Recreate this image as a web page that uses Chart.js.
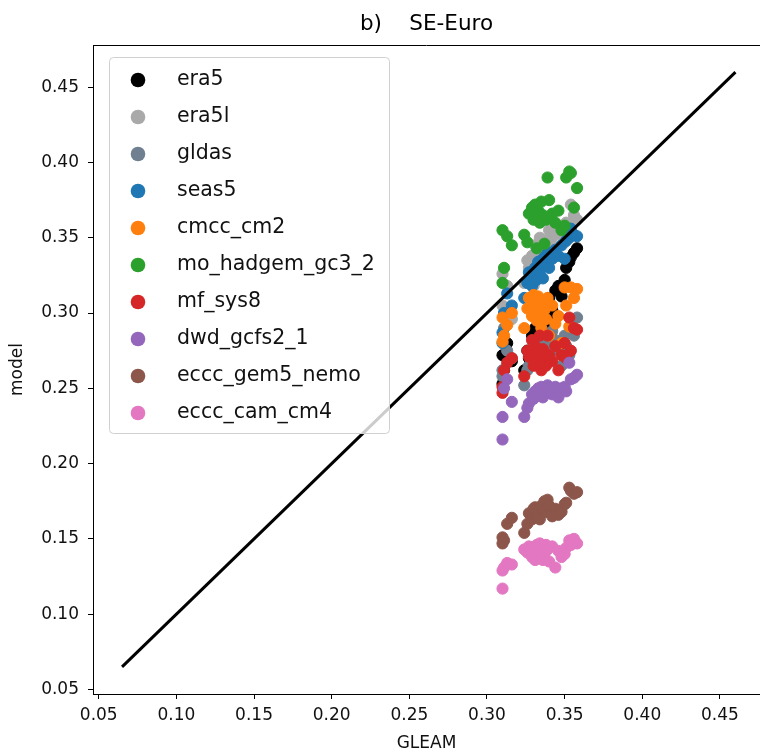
<!DOCTYPE html>
<html>
<head>
<meta charset="utf-8">
<script src="https://cdn.jsdelivr.net/npm/chart.js@4.4.1/dist/chart.umd.min.js"></script>
<style>
    html, body { margin: 0; padding: 0; background: #fff; overflow: hidden; }
    #ChartSEEuro { display: block; }
</style>
</head>
<body>
<canvas id="ChartSEEuro" width="760" height="748"></canvas>
<script>

// GLEAM value per year (shared x for every model)
const Gleam = [0.310, 0.310, 0.311, 0.313, 0.316, 0.324, 0.326, 0.327, 0.329, 0.330,
               0.331, 0.332, 0.333, 0.334, 0.335, 0.336, 0.337, 0.338, 0.339, 0.340,
               0.342, 0.344, 0.346, 0.348, 0.350, 0.351, 0.353, 0.354, 0.356, 0.358];

const Era5 = [0.272, 0.253, 0.262, 0.280, 0.268, 0.262, 0.275, 0.270, 0.285, 0.272,
              0.290, 0.280, 0.295, 0.285, 0.292, 0.300, 0.291, 0.305, 0.298, 0.310,
              0.302, 0.315, 0.318, 0.311, 0.322, 0.330, 0.334, 0.337, 0.340, 0.343];
const Era5l = [0.326, 0.305, 0.300, 0.318, 0.296, 0.320, 0.335, 0.330, 0.338, 0.318,
               0.345, 0.335, 0.342, 0.350, 0.340, 0.332, 0.348, 0.345, 0.338, 0.355,
               0.350, 0.343, 0.355, 0.352, 0.347, 0.360, 0.356, 0.372, 0.365, 0.362];
const Gldas = [0.262, 0.258, 0.290, 0.275, 0.270, 0.252, 0.262, 0.265, 0.272, 0.268,
               0.278, 0.270, 0.282, 0.275, 0.268, 0.280, 0.272, 0.285, 0.278, 0.270,
               0.288, 0.282, 0.275, 0.265, 0.285, 0.278, 0.272, 0.290, 0.285, 0.297];
const Seas5 = [0.287, 0.280, 0.300, 0.313, 0.305, 0.310, 0.320, 0.327, 0.318, 0.325,
               0.330, 0.322, 0.334, 0.328, 0.335, 0.323, 0.337, 0.332, 0.340, 0.330,
               0.336, 0.342, 0.338, 0.345, 0.336, 0.348, 0.350, 0.356, 0.352, 0.351];
const CmccCm2 = [0.281, 0.297, 0.285, 0.292, 0.300, 0.290, 0.303, 0.310, 0.298, 0.312,
                 0.305, 0.295, 0.311, 0.300, 0.290, 0.308, 0.302, 0.296, 0.310, 0.285,
                 0.305, 0.293, 0.298, 0.280, 0.317, 0.305, 0.291, 0.317, 0.310, 0.316];
const MoHadgem = [0.355, 0.320, 0.330, 0.351, 0.345, 0.352, 0.347, 0.366, 0.370, 0.362,
                  0.372, 0.343, 0.368, 0.360, 0.374, 0.365, 0.346, 0.362, 0.390, 0.375,
                  0.366, 0.360, 0.368, 0.355, 0.358, 0.390, 0.394, 0.393, 0.370, 0.383];
const MfSys8 = [0.251, 0.247, 0.262, 0.267, 0.270, 0.258, 0.275, 0.271, 0.282, 0.265,
                0.278, 0.268, 0.272, 0.285, 0.262, 0.276, 0.270, 0.265, 0.285, 0.272,
                0.268, 0.278, 0.262, 0.272, 0.280, 0.270, 0.297, 0.275, 0.290, 0.289];
const DwdGcfs = [0.216, 0.231, 0.250, 0.256, 0.241, 0.231, 0.237, 0.240, 0.246, 0.243,
                 0.248, 0.245, 0.250, 0.247, 0.251, 0.244, 0.250, 0.248, 0.252, 0.250,
                 0.246, 0.251, 0.244, 0.250, 0.251, 0.248, 0.267, 0.256, 0.257, 0.259];
const EcccGem5 = [0.151, 0.147, 0.149, 0.160, 0.164, 0.154, 0.160, 0.167, 0.163, 0.170,
                  0.171, 0.165, 0.168, 0.163, 0.172, 0.170, 0.175, 0.168, 0.176, 0.172,
                  0.165, 0.170, 0.166, 0.168, 0.173, 0.174, 0.184, 0.182, 0.180, 0.181];
const EcccCam = [0.117, 0.129, 0.131, 0.134, 0.133, 0.143, 0.141, 0.145, 0.138, 0.143,
                 0.136, 0.146, 0.142, 0.147, 0.144, 0.136, 0.140, 0.146, 0.143, 0.135,
                 0.145, 0.131, 0.142, 0.138, 0.140, 0.144, 0.149, 0.146, 0.150, 0.147];

const Modelos = ['era5', 'era5l', 'gldas', 'seas5', 'cmcc_cm2', 'mo_hadgem_gc3_2',
                 'mf_sys8', 'dwd_gcfs2_1', 'eccc_gem5_nemo', 'eccc_cam_cm4'];
const Series = [Era5, Era5l, Gldas, Seas5, CmccCm2, MoHadgem, MfSys8, DwdGcfs, EcccGem5, EcccCam];
const Colores = ['#000000', '#a9a9a9', '#708090', '#1f77b4', '#ff7f0e',
                 '#2ca02c', '#d62728', '#9467bd', '#8c564b', '#e377c2'];

// 1:1 line
const LineaX = [0.065, 0.46];
const LineaY = [0.065, 0.46];

const Ticks = [0.05, 0.10, 0.15, 0.20, 0.25, 0.30, 0.35, 0.40, 0.45];

const FONT = 'DejaVu Sans';

const TituloPlugin = {
    id: 'titulo',
    afterDraw: (chart) => {
        const ctx = chart.ctx;
        const a = chart.chartArea;
        ctx.save();
        // top spine
        ctx.strokeStyle = '#000';
        ctx.lineWidth = 1;
        ctx.beginPath();
        ctx.moveTo(a.left, a.top + 0.5);
        ctx.lineTo(a.right, a.top + 0.5);
        ctx.stroke();
        ctx.fillStyle = '#000';
        ctx.font = '21.5px "' + FONT + '"';
        ctx.textAlign = 'center';
        ctx.textBaseline = 'alphabetic';
        ctx.fillText('b)    SE-Euro', (a.left + a.right) / 2, 30);
        ctx.restore();
    }
};

const LeyendaPlugin = {
    id: 'leyenda',
    afterDraw: (chart) => {
        const ctx = chart.ctx;
        const x0 = 109, y0 = 57, w = 280, h = 376;
        ctx.save();
        ctx.fillStyle = 'rgba(255,255,255,0.8)';
        ctx.strokeStyle = '#d0d0d0';
        ctx.lineWidth = 1;
        ctx.beginPath();
        ctx.roundRect(x0 + 0.5, y0 + 0.5, w, h, 4);
        ctx.fill();
        ctx.stroke();
        ctx.font = '20.5px "' + FONT + '"';
        ctx.textBaseline = 'middle';
        ctx.textAlign = 'left';
        chart.data.datasets.forEach((ds, i) => {
            if (ds.type === 'line') return;
            const y = 80 + i * 37;
            ctx.fillStyle = ds.backgroundColor;
            ctx.beginPath();
            ctx.arc(138, y, 7.3, 0, Math.PI * 2);
            ctx.fill();
            ctx.fillStyle = '#111';
            ctx.fillText(ds.label, 177, y);
        });
        ctx.restore();
    }
};

const ejeBase = (titulo, tickPad) => ({
    type: 'linear',
    afterBuildTicks: (s) => { s.ticks = Ticks.map(v => ({ value: v })); },
    ticks: {
        callback: (v) => v.toFixed(2),
        color: '#111',
        font: { family: FONT, size: 17 },
        padding: tickPad
    },
    grid: {
        display: true,
        drawOnChartArea: false,
        drawTicks: true,
        tickLength: 5,
        tickWidth: 1,
        tickColor: '#000'
    },
    border: { display: true, color: '#000', width: 1 },
    title: {
        display: true,
        text: titulo,
        color: '#111',
        font: { family: FONT, size: 17, lineHeight: 1 }
    }
});

const ejeX = ejeBase('GLEAM', 6);
ejeX.min = 0.0463;
ejeX.max = 0.4758;
ejeX.title.padding = { top: 0, bottom: -4 };
ejeX.afterFit = (s) => { s.height = 54; };

const ejeY = ejeBase('model', 9);
ejeY.min = 0.047;
ejeY.max = 0.478;
ejeY.title.padding = { top: 9, bottom: 0 };
ejeY.afterFit = (s) => { s.width = 93; };

const datasets = Series.map((serie, i) => ({
    label: Modelos[i],
    data: serie.map((v, j) => ({ x: Gleam[j], y: v })),
    backgroundColor: Colores[i],
    borderColor: Colores[i],
    pointRadius: 5.6,
    pointBorderWidth: 1,
    order: 20 - i
}));

datasets.push({
    type: 'line',
    label: '1:1',
    data: LineaX.map((v, j) => ({ x: v, y: LineaY[j] })),
    borderColor: '#000',
    borderWidth: 3,
    pointRadius: 0,
    fill: false,
    order: 0
});

const ctxSEEuro = document.getElementById('ChartSEEuro');
const ChartSEEuro = new Chart(ctxSEEuro, {
    type: 'scatter',
    data: { datasets: datasets },
    options: {
        responsive: false,
        animation: false,
        layout: { autoPadding: false, padding: { top: 45, right: 0, bottom: 0, left: 0 } },
        plugins: {
            legend: { display: false },
            title: { display: false },
            tooltip: { enabled: false }
        },
        scales: { x: ejeX, y: ejeY }
    },
    plugins: [TituloPlugin, LeyendaPlugin]
});

</script>
</body>
</html>
